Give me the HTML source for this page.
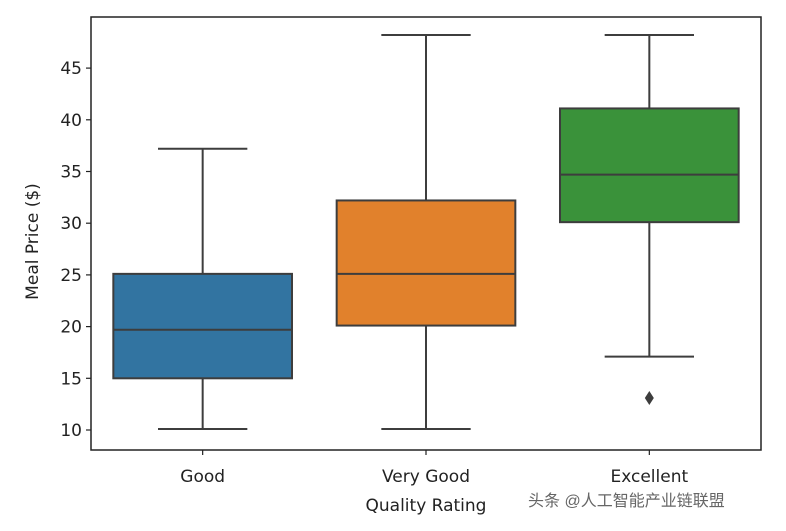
<!DOCTYPE html>
<html><head><meta charset="utf-8"><style>
body{margin:0;background:#fff;}
svg text{font-family:"DejaVu Sans","Liberation Sans",sans-serif;fill:#222;}
</style></head><body>
<svg id="chart" width="786" height="526" viewBox="0 0 786 526" xmlns="http://www.w3.org/2000/svg"></svg>
<script>
const categories=["Good","Very Good","Excellent"];
const whiskerLow=[10.1,10.1,17.1];
const q1=[15.0,20.1,30.1];
const median=[19.7,25.1,34.7];
const q3=[25.1,32.2,41.1];
const whiskerHigh=[37.2,48.2,48.2];
const outlierCat=[2];
const outlierVal=[13.1];
const yTicks=[10,15,20,25,30,35,40,45];
const colors=["#3274a1","#e1812c","#3a923a"];
const L=91,T=17,R=761,B=450;
const step=(R-L)/categories.length;
const xc=i=>L+step*(i+0.5);
const y=v=>430-(v-10)*10.34;
const svg=document.getElementById('chart');
const NS="http://www.w3.org/2000/svg";
function mk(tag,attrs,parent){const e=document.createElementNS(NS,tag);for(const k in attrs)e.setAttribute(k,attrs[k]);(parent||svg).appendChild(e);return e;}
const stroke="#3d3d3d";
categories.forEach((c,i)=>{
  const g=mk('g',{});
  
  
  const cx=xc(i),bw=step*0.8;
  mk('line',{x1:cx,x2:cx,y1:y(whiskerHigh[i]),y2:y(q3[i]),stroke,'stroke-width':2},g);
  mk('line',{x1:cx,x2:cx,y1:y(q1[i]),y2:y(whiskerLow[i]),stroke,'stroke-width':2},g);
  mk('line',{x1:cx-bw/4,x2:cx+bw/4,y1:y(whiskerHigh[i]),y2:y(whiskerHigh[i]),stroke,'stroke-width':2},g);
  mk('line',{x1:cx-bw/4,x2:cx+bw/4,y1:y(whiskerLow[i]),y2:y(whiskerLow[i]),stroke,'stroke-width':2},g);
  mk('rect',{x:cx-bw/2,y:y(q3[i]),width:bw,height:y(q1[i])-y(q3[i]),fill:colors[i],stroke,'stroke-width':2},g);
  mk('line',{x1:cx-bw/2,x2:cx+bw/2,y1:y(median[i]),y2:y(median[i]),stroke,'stroke-width':2},g);
  mk('line',{x1:cx,x2:cx,y1:B,y2:B+5,stroke:'#222','stroke-width':1.2});
  const t=mk('text',{x:cx,y:482,'text-anchor':'middle','font-size':17});
  t.textContent=c;
  
  
});
outlierVal.forEach((v,k)=>{
  const cx=xc(outlierCat[k]),cy=y(v);
  const p=mk('polygon',{points:`${cx},${cy-7} ${cx+4.5},${cy} ${cx},${cy+7} ${cx-4.5},${cy}`,fill:stroke});
  
  
});
yTicks.forEach(v=>{
  mk('line',{x1:L-5,x2:L,y1:y(v),y2:y(v),stroke:'#222','stroke-width':1.2});
  const t=mk('text',{x:L-9,y:y(v)+6,'text-anchor':'end','font-size':17});
  t.textContent=v;
  
  
});
const fr=mk('rect',{x:L,y:T,width:R-L,height:B-T,fill:'none',stroke:'#222','stroke-width':1.5});


const yt=mk('text',{x:0,y:0,'text-anchor':'middle','font-size':17,transform:`translate(38,${(T+B)/2+8}) rotate(-90)`});
yt.textContent="Meal Price ($)";


const xt=mk('text',{x:xc(1),y:511,'text-anchor':'middle','font-size':17});
xt.textContent="Quality Rating";


const wm=mk('text',{x:528,y:506,'font-size':16,fill:'#555'});
wm.textContent="头条 @人工智能产业链联盟";
wm.setAttribute('style','font-family:"Liberation Sans","Noto Sans CJK SC",sans-serif;fill:#666');


</script>
</body></html>
